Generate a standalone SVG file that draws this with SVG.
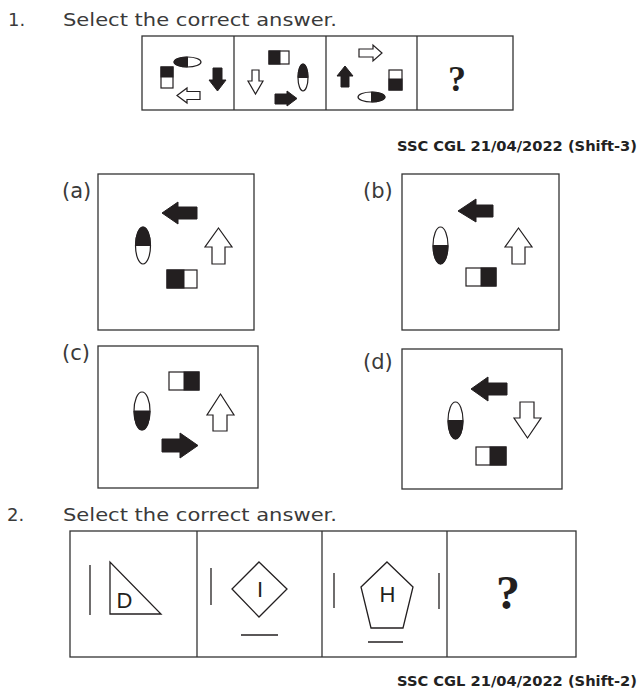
<svg xmlns="http://www.w3.org/2000/svg" width="640" height="692" viewBox="0 0 640 692">
<style>
.bg{fill:#fff}
.frame{fill:none;stroke:#333;stroke-width:1.3}
.blk{fill:#231f20;stroke:#231f20;stroke-width:1}
.hol{fill:#fff;stroke:#231f20;stroke-width:1.2}
.ln{stroke:#231f20;stroke-width:1.3;fill:none}
.q{font-family:"DejaVu Sans",sans-serif;font-size:18px;fill:#3a3a3a}
.lab{font-family:"DejaVu Sans",sans-serif;font-size:21px;fill:#3a3a3a}
.src{font-family:"DejaVu Sans",sans-serif;font-size:14.5px;font-weight:700;fill:#222}
.qm{font-family:"Liberation Serif",serif;fill:#231f20;font-weight:700}
.let{font-family:"Liberation Sans",sans-serif;font-size:22px;fill:#231f20}
</style>
<rect class="bg" width="640" height="692"/>

<g id="q1-title">
<text class="q" x="8" y="26">1.</text>
<text class="q" x="63" y="26" textLength="274" lengthAdjust="spacingAndGlyphs">Select the correct answer.</text>
</g>

<g id="q1-series">
<rect class="frame" x="142" y="36" width="371" height="74"/>
<line class="frame" x1="234" y1="36" x2="234" y2="110"/>
<line class="frame" x1="326" y1="36" x2="326" y2="110"/>
<line class="frame" x1="417" y1="36" x2="417" y2="110"/>
<!-- cell 1 -->
<ellipse class="hol" cx="187.5" cy="62" rx="13.5" ry="5"/>
<path class="blk" d="M187.5,57 A13.5,5 0 0 0 187.5,67 Z"/>
<rect class="hol" x="161" y="67" width="12" height="21"/>
<rect class="blk" x="161" y="67" width="12" height="10"/>
<polygon class="hol" points="177,95.5 187,88 187,91.5 200,91.5 200,99.5 187,99.5 187,103"/>
<polygon class="blk" points="213,68 222,68 222,80 226,80 217.5,91 209,80 213,80"/>
<!-- cell 2 -->
<rect class="hol" x="269" y="51" width="20" height="13"/>
<rect class="blk" x="269" y="51" width="11" height="13"/>
<polygon class="hol" points="252,70 259,70 259,81 263,81 255.5,94 248,81 252,81"/>
<ellipse class="hol" cx="303" cy="77.5" rx="5" ry="13.5"/>
<path class="blk" d="M298,77.5 A5,13.5 0 0 1 308,77.5 Z"/>
<polygon class="blk" points="275,94 287,94 287,91 297,98.5 287,106 287,104 275,104"/>
<!-- cell 3 -->
<polygon class="hol" points="359,49 373,49 373,45 382,53 373,61 373,57 359,57"/>
<polygon class="blk" points="345,66 353,76 349,76 349,87 341,87 341,76 337,76"/>
<rect class="hol" x="389" y="70" width="13" height="20"/>
<rect class="blk" x="389" y="79" width="13" height="11"/>
<ellipse class="hol" cx="371.5" cy="97" rx="13.5" ry="5"/>
<path class="blk" d="M371.5,92 A13.5,5 0 0 1 371.5,102 Z"/>
<!-- cell 4 -->
<text class="qm" x="457" y="91" font-size="36" text-anchor="middle">?</text>
</g>

<g id="q1-source">
<text class="src" x="637" y="151" text-anchor="end" textLength="240" lengthAdjust="spacingAndGlyphs">SSC CGL 21/04/2022 (Shift-3)</text>
</g>

<g id="opt-a">
<text class="lab" x="62" y="198">(a)</text>
<rect class="frame" x="98" y="174" width="156" height="156"/>
<polygon class="blk" points="162,213 178,202 178,207 197,207 197,219 178,219 178,224"/>
<ellipse class="hol" cx="143" cy="245.5" rx="7.5" ry="18.5"/>
<path class="blk" d="M135.5,245.5 A7.5,18.5 0 0 1 150.5,245.5 Z"/>
<polygon class="hol" points="218.5,228 232,247 225,247 225,264 212,264 212,247 205,247"/>
<rect class="hol" x="167" y="270" width="30" height="18"/>
<rect class="blk" x="167" y="270" width="17" height="18"/>
</g>

<g id="opt-b">
<text class="lab" x="363" y="198">(b)</text>
<rect class="frame" x="402" y="174" width="157" height="156"/>
<polygon class="blk" points="458,211 476,199 476,205 493,205 493,217 476,217 476,222"/>
<ellipse class="hol" cx="440.5" cy="245.5" rx="7.5" ry="18.5"/>
<path class="blk" d="M433,245.5 A7.5,18.5 0 0 0 448,245.5 Z"/>
<polygon class="hol" points="518.5,228 532,247 525,247 525,264 512,264 512,247 505,247"/>
<rect class="hol" x="466" y="268" width="30" height="18"/>
<rect class="blk" x="481" y="268" width="15" height="18"/>
</g>

<g id="opt-c">
<text class="lab" x="62" y="360">(c)</text>
<rect class="frame" x="98" y="346" width="160" height="142"/>
<rect class="hol" x="169" y="372" width="30" height="18"/>
<rect class="blk" x="184" y="372" width="15" height="18"/>
<ellipse class="hol" cx="142" cy="411" rx="8" ry="19"/>
<path class="blk" d="M134,411 A8,19 0 0 0 150,411 Z"/>
<polygon class="hol" points="220.5,394 234,415 227,415 227,431 213,431 213,415 207,415"/>
<polygon class="blk" points="162,439 180,439 180,433 198,445.5 180,458 180,452 162,452"/>
</g>

<g id="opt-d">
<text class="lab" x="363" y="369">(d)</text>
<rect class="frame" x="402" y="349" width="160" height="140"/>
<polygon class="blk" points="471,389 488,377 488,383 507,383 507,395 488,395 488,401"/>
<ellipse class="hol" cx="455.5" cy="420.5" rx="7.5" ry="18.5"/>
<path class="blk" d="M448,420.5 A7.5,18.5 0 0 0 463,420.5 Z"/>
<polygon class="hol" points="520,402 534,402 534,418 541,418 527.5,438 514,418 520,418"/>
<rect class="hol" x="476" y="447" width="30" height="18"/>
<rect class="blk" x="490" y="447" width="16" height="18"/>
</g>

<g id="q2-title">
<text class="q" x="7" y="521">2.</text>
<text class="q" x="63" y="521" textLength="274" lengthAdjust="spacingAndGlyphs">Select the correct answer.</text>
</g>

<g id="q2-series">
<rect class="frame" x="70" y="531" width="506" height="126"/>
<line class="frame" x1="197" y1="531" x2="197" y2="657"/>
<line class="frame" x1="322" y1="531" x2="322" y2="657"/>
<line class="frame" x1="447" y1="531" x2="447" y2="657"/>
<!-- cell 1 -->
<line class="ln" x1="90" y1="565" x2="90" y2="615"/>
<polygon class="ln" points="110,562 110,614 161,614"/>
<text class="let" x="124.5" y="608" text-anchor="middle">D</text>
<!-- cell 2 -->
<line class="ln" x1="211" y1="568" x2="211" y2="605"/>
<polygon class="ln" points="259,562 287,589 259,617 232,589"/>
<text class="let" x="260" y="597" text-anchor="middle">I</text>
<line class="ln" x1="241" y1="635" x2="278" y2="635"/>
<!-- cell 3 -->
<line class="ln" x1="334" y1="573" x2="334" y2="608"/>
<polygon class="ln" points="387,562 413,587 403,628 371,628 361,587"/>
<text class="let" x="387.5" y="602" text-anchor="middle">H</text>
<line class="ln" x1="368" y1="642" x2="403" y2="642"/>
<line class="ln" x1="439" y1="573" x2="439" y2="609"/>
<!-- cell 4 -->
<text class="qm" x="508" y="609" font-size="48" text-anchor="middle">?</text>
</g>

<g id="q2-source">
<text class="src" x="637" y="686" text-anchor="end" textLength="240" lengthAdjust="spacingAndGlyphs">SSC CGL 21/04/2022 (Shift-2)</text>
</g>
</svg>
